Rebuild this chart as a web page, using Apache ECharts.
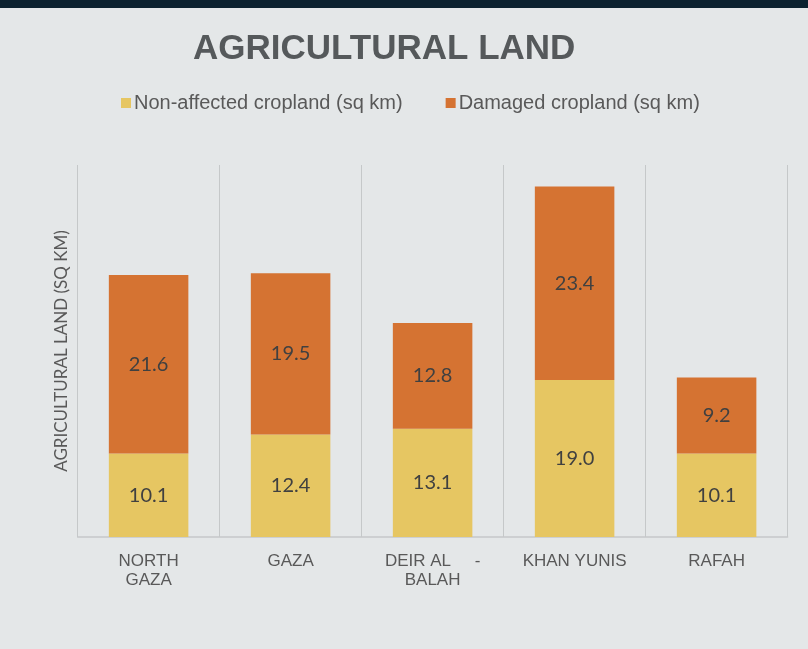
<!DOCTYPE html>
<html>
<head>
<meta charset="utf-8">
<script src="https://cdn.jsdelivr.net/npm/echarts@6/dist/echarts.min.js"></script>
<style>
html,body{margin:0;padding:0;background:#e4e7e8;}
#chart{width:808px;height:649px;}
</style>
</head>
<body>
<div id="chart"></div>
<script>
var categories = ['NORTH\nGAZA', 'GAZA', 'DEIR AL     -\nBALAH', 'KHAN YUNIS', 'RAFAH'];
var nonAffected = [10.1, 12.4, 13.1, 19.0, 10.1];
var damaged = [21.6, 19.5, 12.8, 23.4, 9.2];
var seriesNames = ['Non-affected cropland (sq km)', 'Damaged cropland (sq km)'];

var chart = echarts.init(document.getElementById('chart'));
var labelStyle = {
  show: true,
  position: 'inside',
  color: '#404040',
  fontFamily: 'Lato',
  fontSize: 20,
  formatter: function (p) { return p.value.toFixed(1); }
};
chart.setOption({
  backgroundColor: '#e4e7e8',
  animation: false,
  graphic: [
    { type: 'rect', left: 0, top: 0, shape: { width: 808, height: 8 }, style: { fill: '#0c2230' } }
  ],
  title: {
    text: 'AGRICULTURAL LAND',
    left: 188,
    top: 27,
    textStyle: { fontFamily: 'Liberation Sans', fontWeight: 'bold', fontSize: 35, color: '#55595b' }
  },
  legend: {
    left: 116,
    top: 88,
    itemWidth: 10,
    itemHeight: 10,
    itemGap: 43,
    icon: 'rect',
    textStyle: { fontFamily: 'Liberation Sans', fontSize: 20, color: '#595959', padding: [0, 0, 0, -2] },
    data: seriesNames
  },
  grid: { left: 77.6, right: 20.4, top: 165, bottom: 112 },
  xAxis: {
    type: 'category',
    data: categories,
    axisTick: { show: false },
    axisLine: { lineStyle: { color: '#c5c8c9', width: 1.5 } },
    splitLine: { show: true, lineStyle: { color: '#c5c8c9', width: 1 } },
    axisLabel: {
      interval: 0,
      margin: 15,
      fontFamily: 'Liberation Sans',
      fontSize: 17,
      lineHeight: 19,
      color: '#595959'
    }
  },
  yAxis: {
    type: 'value',
    min: 0,
    max: 45,
    axisLine: { show: false },
    axisTick: { show: false },
    axisLabel: { show: false },
    splitLine: { show: false },
    name: 'AGRICULTURAL LAND (SQ KM)',
    nameLocation: 'middle',
    nameGap: 8,
    nameTextStyle: { fontFamily: 'Lato', fontSize: 17, color: '#595959' }
  },
  series: [
    {
      name: seriesNames[0],
      type: 'bar',
      stack: 'total',
      barWidth: '56%',
      itemStyle: { color: '#e6c662' },
      label: labelStyle,
      data: nonAffected
    },
    {
      name: seriesNames[1],
      type: 'bar',
      stack: 'total',
      barWidth: '56%',
      itemStyle: { color: '#d57332' },
      label: labelStyle,
      data: damaged
    }
  ]
});
</script>
</body>
</html>
